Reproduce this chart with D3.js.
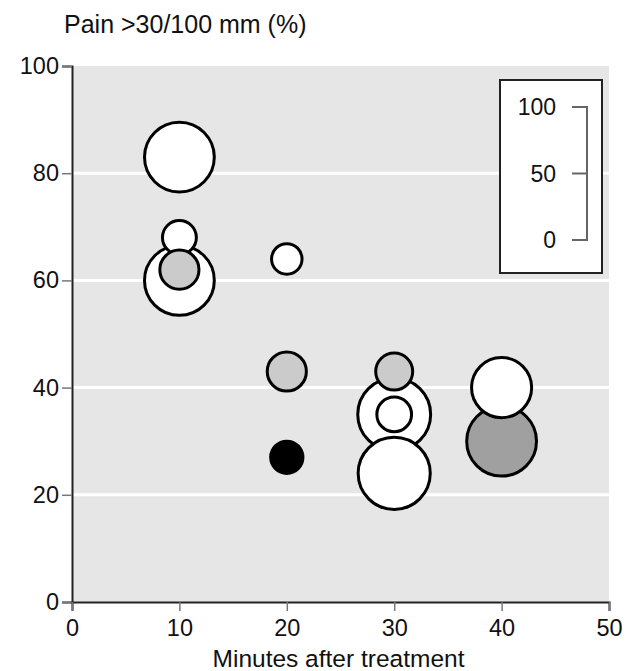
<!DOCTYPE html>
<html>
<head>
<meta charset="utf-8">
<style>
    body { margin: 0; background: #fff; }
    svg text { font-family: "Liberation Sans", Arial, Helvetica, sans-serif; fill: #111; }
</style>
</head>
<body>
<script src="https://cdn.jsdelivr.net/npm/d3@7"></script>
<script>
    // data (draw order = array order)
    var minutes = [10, 10, 10, 10, 20, 20, 20, 30, 30, 30, 30, 40, 40];
    var painPct = [83, 60, 68, 62, 64, 43, 27, 35, 43, 24, 35, 30, 40];
    var nPatients = [89, 89, 21, 28, 17, 28, 19, 97, 25, 95, 22, 89, 66];
    var groups = ["A", "A", "A", "B", "A", "B", "D", "A", "B", "A", "A", "C", "A"];
    var xTicks = [0, 10, 20, 30, 40, 50];
    var yTicks = [0, 20, 40, 60, 80, 100];
    var legendTicks = [0, 50, 100];

    var width = 631, height = 671;
    var margin = { left: 72, top: 66, right: 22, bottom: 69 };

    var svg = d3.select("body").append("svg")
        .attr("width", width)
        .attr("height", height);

    var x = d3.scaleLinear().domain([0, 50]).range([margin.left, width - margin.right]);
    var y = d3.scaleLinear().domain([0, 100]).range([height - margin.bottom, margin.top]);
    var r = d3.scaleSqrt().domain([0, 100]).range([0, 37]);
    var fill = d3.scaleOrdinal().domain(["A", "B", "C", "D"])
        .range(["#ffffff", "#cbcbcb", "#a0a0a0", "#000000"]);

    // plot background
    svg.append("rect")
        .attr("x", x(0)).attr("y", y(100))
        .attr("width", x(50) - x(0)).attr("height", y(0) - y(100))
        .attr("fill", "#e6e6e6");

    // grid
    svg.selectAll(".grid")
        .data(yTicks.filter(d => d > 0 && d < 100))
        .enter().append("line")
        .attr("x1", x(0)).attr("x2", x(50))
        .attr("y1", d => y(d)).attr("y2", d => y(d))
        .style("stroke", "#fff")
        .style("stroke-width", 3);

    // axes
    var yAxis = svg.append("g")
        .attr("transform", "translate(" + x(0) + ",0)")
        .call(d3.axisLeft(y).tickValues(yTicks).tickSize(10).tickPadding(3));
    var xAxis = svg.append("g")
        .attr("transform", "translate(0," + y(0) + ")")
        .call(d3.axisBottom(x).tickValues(xTicks).tickSize(9).tickPadding(8));

    [yAxis, xAxis].forEach(function (g) {
        g.select(".domain").style("stroke", "#222").style("stroke-width", 2);
        g.selectAll(".tick line").style("stroke", "#777").style("stroke-width", 1.5);
        g.selectAll(".tick text").style("font-size", "23.5px").style("fill", "#111");
    });

    // bubbles
    var data = minutes.map(function (m, i) {
        return { minute: m, pct: painPct[i], n: nPatients[i], group: groups[i] };
    });
    svg.selectAll(".bubble")
        .data(data)
        .enter().append("circle")
        .attr("class", "bubble")
        .attr("cx", d => x(d.minute))
        .attr("cy", d => y(d.pct))
        .attr("r", d => r(d.n))
        .attr("fill", d => fill(d.group))
        .style("stroke", "#000")
        .style("stroke-width", 3);

    // legend box
    svg.append("rect")
        .attr("x", 500).attr("y", 80)
        .attr("width", 102).attr("height", 193)
        .attr("fill", "#fff")
        .style("stroke", "#222")
        .style("stroke-width", 2);

    var ly = d3.scaleLinear().domain([0, 100]).range([240, 107]);
    svg.append("line")
        .attr("x1", 587).attr("x2", 587)
        .attr("y1", ly(0)).attr("y2", ly(100))
        .style("stroke", "#666").style("stroke-width", 2);
    svg.selectAll(".lgtick")
        .data(legendTicks)
        .enter().append("line")
        .attr("x1", 572).attr("x2", 588)
        .attr("y1", d => ly(d)).attr("y2", d => ly(d))
        .style("stroke", "#666").style("stroke-width", 2);
    svg.selectAll(".lglabel")
        .data(legendTicks)
        .enter().append("text")
        .attr("x", 556)
        .attr("y", d => ly(d))
        .attr("dy", "0.35em")
        .attr("text-anchor", "end")
        .style("font-size", "23px")
        .text(d => d);

    // titles
    svg.append("text")
        .attr("x", 64).attr("y", 33)
        .style("font-size", "25px")
        .text("Pain >30/100 mm (%)");
    svg.append("text")
        .attr("x", (x(0) + x(50)) / 2 - 2).attr("y", 667)
        .attr("text-anchor", "middle")
        .style("font-size", "24.5px")
        .text("Minutes after treatment");
</script>
</body>
</html>
